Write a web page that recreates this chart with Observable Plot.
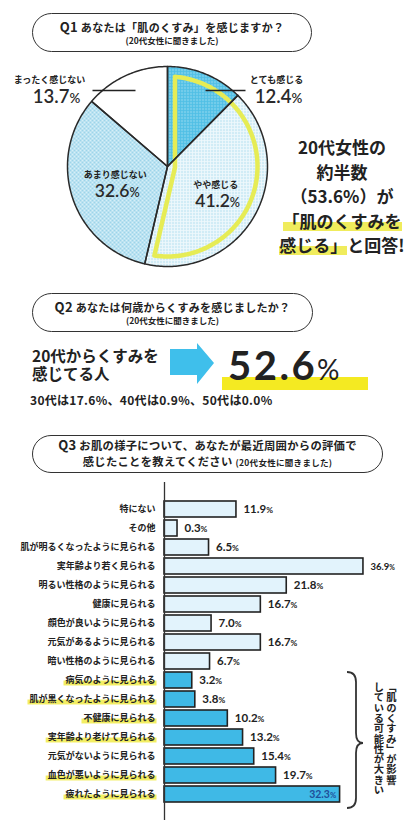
<!DOCTYPE html>
<html><head><meta charset="utf-8">
<script src="https://cdn.jsdelivr.net/npm/d3@7"></script>
<script src="https://cdn.jsdelivr.net/npm/@observablehq/plot@0.6"></script>
<style>
body{margin:0;background:#fff;}
#root{position:relative;width:420px;height:840px;overflow:hidden;font-family:"Noto Sans CJK JP",sans-serif;color:#222;background:#fff;}
.abs{position:absolute;}
.pill{position:absolute;border:1.6px solid #333;border-radius:22px;box-sizing:border-box;text-align:center;font-weight:700;white-space:nowrap;}
.pill .l1{font-size:11px;line-height:14px;letter-spacing:0.3px;}
.pill .l2{font-size:8.5px;line-height:12px;}
.pill .q{font-size:13px;}
.stmt{position:absolute;left:278px;top:135px;width:128px;text-align:center;font-size:17px;font-weight:700;line-height:24.5px;white-space:nowrap;}
.hl{background:linear-gradient(transparent 58%, #f0ec5c 58%, #f0ec5c 92%, transparent 92%);}
.vert{position:absolute;left:372px;top:682px;writing-mode:vertical-rl;font-size:10.3px;line-height:12.5px;font-weight:700;white-space:nowrap;}
.lead{position:absolute;left:32px;top:346px;width:135px;font-size:15.5px;line-height:18px;font-weight:700;}
</style></head>
<body>
<svg width="0" height="0" style="position:absolute">
 <defs>
  <pattern id="pStrong" width="3" height="3" patternUnits="userSpaceOnUse">
    <rect width="3" height="3" fill="#50bfe5"/><circle cx="1.5" cy="1.5" r="0.7" fill="#bfe8f6"/>
  </pattern>
  <pattern id="pSome" width="3" height="3" patternUnits="userSpaceOnUse">
    <rect width="3" height="3" fill="#eef8fc"/><circle cx="1.5" cy="1.5" r="0.7" fill="#8fd0ea"/>
  </pattern>
  <pattern id="pNot" width="4" height="4" patternUnits="userSpaceOnUse">
    <rect width="4" height="4" fill="#d6eff8"/><path d="M0,0L4,4M4,0L0,4" stroke="#8ecde6" stroke-width="0.8"/>
  </pattern>
 </defs>
</svg>
<div id="root">
  <svg id="deco" class="abs" width="420" height="840" style="left:0;top:0"></svg>
  <div class="pill" style="left:32px;top:13px;width:280px;height:39px;padding-top:6px">
    <div class="l1"><span class="q">Q1</span> あなたは「肌のくすみ」を感じますか？</div>
    <div class="l2">(20代女性に聞きました)</div>
  </div>
  <div class="stmt">20代女性の<br>約半数<br>（53.6%）が<br><span class="hl">「肌のくすみを</span><br><span class="hl">感じる」</span>と回答!</div>
  <div class="pill" style="left:32px;top:293px;width:281px;height:39px;padding-top:6px">
    <div class="l1"><span class="q">Q2</span> あなたは何歳からくすみを感じましたか？</div>
    <div class="l2">(20代女性に聞きました)</div>
  </div>
  <div class="lead">20代からくすみを感じてる人</div>
  <div class="pill" style="left:32px;top:435px;width:351px;height:38px;padding-top:1px">
    <div class="l1" style="line-height:16px;font-size:11.3px"><span class="q">Q3</span> お肌の様子について、あなたが最近周囲からの評価で</div>
    <div class="l1" style="line-height:16px;font-size:11.3px">感じたことを教えてください <span style="font-size:8.5px">(20代女性に聞きました)</span></div>
  </div>
  <div class="vert">「肌のくすみ」が影響<br>している可能性が大きい</div>
</div>
<script>
// ---------- data ----------
const q1Labels = ["とても感じる", "やや感じる", "あまり感じない", "まったく感じない"];
const q1Values = [12.4, 41.2, 32.6, 13.7];
const q1Highlight = ["とても感じる", "やや感じる"];

const q2Main = 52.6;
const q2AgeLabels = ["30代", "40代", "50代"];
const q2AgeValues = [17.6, 0.9, 0.0];

const q3Labels = [
  "特にない", "その他", "肌が明るくなったように見られる", "実年齢より若く見られる",
  "明るい性格のように見られる", "健康に見られる", "顔色が良いように見られる",
  "元気があるように見られる", "暗い性格のように見られる", "病気のように見られる",
  "肌が黒くなったように見られる", "不健康に見られる", "実年齢より老けて見られる",
  "元気がないように見られる", "血色が悪いように見られる", "疲れたように見られる"
];
const q3Values = [11.9, 0.3, 6.5, 36.9, 21.8, 16.7, 7.0, 16.7, 6.7, 3.2, 3.8, 10.2, 13.2, 15.4, 19.7, 32.3];
const q3Groups = ["other","other","other","other","other","other","other","other","other",
  "kusumi","kusumi","kusumi","kusumi","kusumi","kusumi","kusumi"];
const q3Highlighted = ["病気のように見られる", "肌が黒くなったように見られる", "不健康に見られる",
  "実年齢より老けて見られる", "血色が悪いように見られる", "疲れたように見られる"];

// ---------- styles / layout ----------
const q1Fill = {"とても感じる": "url(#pStrong)", "やや感じる": "url(#pSome)", "あまり感じない": "url(#pNot)", "まったく感じない": "#ffffff"};
const q1Outer = {"とても感じる": {x: 1.09, y: 0.86, px: 1.11, py: 0.69}, "まったく感じない": {x: -1.18, y: 0.86, px: -1.11, py: 0.69}};
const q1Leaders = [{x1: -0.75, x2: -0.32, y: 0.76}, {x1: 0.38, x2: 0.78, y: 0.76}];
const FONT = "'Noto Sans CJK JP', sans-serif";
const NUMFONT = "Lato, 'Noto Sans', sans-serif";
const ns = "http://www.w3.org/2000/svg";

function smallPercent(svg, scale) {
  svg.querySelectorAll("text").forEach(t => {
    if (t.querySelector("tspan")) return;
    const s = t.textContent;
    if (/^[\d.]+%$/.test(s)) {
      t.textContent = s.slice(0, -1);
      const ts = document.createElementNS(ns, "tspan");
      ts.setAttribute("font-size", scale + "em");
      ts.textContent = "%";
      t.appendChild(ts);
    }
  });
}

// ---------- Q1 pie ----------
const q1 = q1Labels.map((label, i) => ({label, value: q1Values[i]}));
const arcs = d3.pie().sort(null).value(d => d.value)(q1);
const deg = Math.PI / 180;
function arcPts(a0, a1, r) {
  const n = Math.max(2, Math.ceil((a1 - a0) / deg));
  return d3.range(n + 1).map(k => { const a = a0 + (a1 - a0) * k / n; return {x: r * Math.sin(a), y: r * Math.cos(a)}; });
}
const slices = arcs.map(a => ({label: a.data.label, pts: [{x: 0, y: 0}, ...arcPts(a.startAngle, a.endAngle, 1), {x: 0, y: 0}]}));

// inset outline of highlighted sectors
const hl = arcs.filter(a => q1Highlight.includes(a.data.label));
const A0 = d3.min(hl, a => a.startAngle), A1 = d3.max(hl, a => a.endAngle);
const dIn = 0.075, RIn = 0.9;
const u = a => [Math.sin(a), Math.cos(a)];
const u0 = u(A0), u1 = u(A1), n0 = u(A0 + Math.PI / 2), n1 = u(A1 - Math.PI / 2);
const bx = dIn * (n1[0] - n0[0]), by = dIn * (n1[1] - n0[1]);
const det = u0[0] * (-u1[1]) - (-u1[0]) * u0[1];
const tt = (bx * (-u1[1]) - (-u1[0]) * by) / det;
const V = {x: tt * u0[0] + dIn * n0[0], y: tt * u0[1] + dIn * n0[1]};
const eA = Math.asin(dIn / RIn);
const insetPts = [V, ...arcPts(A0 + eA, A1 - eA, RIn), V];

const q1Text = arcs.map(a => {
  const o = q1Outer[a.data.label];
  if (o) return {label: a.data.label, value: a.data.value, x: o.x, y: o.y, px: o.px, py: o.py, size: 18.5};
  const m = (a.startAngle + a.endAngle) / 2, r = 0.55;
  const cx = r * Math.sin(m), cy = r * Math.cos(m);
  return {label: a.data.label, value: a.data.value, x: cx, y: cy + 0.08, px: cx + 0.02, py: cy - 0.08, size: 17.5};
});

const piePlot = Plot.plot({
  width: 420, height: 230, margin: 0,
  x: {domain: [-1.67, 2.53], axis: null},
  y: {domain: [-1.2, 1.1], axis: null},
  style: {background: "transparent", fontFamily: FONT, overflow: "visible", color: "#222"},
  marks: [
    ...slices.map(s => Plot.line(s.pts, {x: "x", y: "y", fill: q1Fill[s.label], stroke: "none", curve: "linear"})),
    Plot.line(insetPts, {x: "x", y: "y", stroke: "#e6ec55", strokeWidth: 4.5, strokeLinejoin: "round", curve: "linear"}),
    ...slices.map(s => Plot.line(s.pts, {x: "x", y: "y", stroke: "#2a2a2a", strokeWidth: 1.5, strokeLinejoin: "round", curve: "linear"})),
    Plot.link(q1Leaders, {x1: "x1", x2: "x2", y1: "y", y2: "y", stroke: "#222", strokeWidth: 1.3}),
    Plot.text(q1Text, {x: "x", y: "y", text: "label", fontSize: 9, fontWeight: 700, fill: "#222"}),
    Plot.text(q1Text, {x: "px", y: "py", text: d => d.value.toFixed(1) + "%", fontSize: "size", fontWeight: 600, fontFamily: NUMFONT, fill: "#2a2a2a"})
  ]
});
piePlot.style.position = "absolute"; piePlot.style.left = "0px"; piePlot.style.top = "56px";
smallPercent(piePlot, 0.72);
document.getElementById("root").appendChild(piePlot);

// ---------- Q2 decorations ----------
const deco = document.getElementById("deco");
function el(tag, attrs, text, parent) {
  const e = document.createElementNS(ns, tag);
  for (const k in attrs) e.setAttribute(k, attrs[k]);
  if (text != null) e.textContent = text;
  (parent || deco).appendChild(e);
  return e;
}
el("rect", {x: 222, y: 377, width: 146, height: 13, fill: "#f4ea22"});
el("polygon", {points: "170,349 197,349 197,343 214,363 197,384 197,375 170,375", fill: "#3fbfeb"});
const big = el("text", {x: 228, y: 380, "font-size": 40, "font-weight": 700, "font-family": NUMFONT, "letter-spacing": 2.5, fill: "#222"}, q2Main.toFixed(1));
el("tspan", {"font-size": 28, "font-weight": 400}, "%", big);
el("text", {x: 30, y: 405, "font-size": 12, "font-weight": 700, "font-family": FONT, "letter-spacing": 0.3, fill: "#222"},
  q2AgeLabels.map((a, i) => `${a}は${q2AgeValues[i].toFixed(1)}%`).join("、"));
// bracket
el("path", {d: "M347,672 Q356,672 356,682 L356,733 Q356,743 363,743 Q356,743 356,753 L356,798 Q356,808 347,808", fill: "none", stroke: "#333", "stroke-width": 1.8});

// ---------- Q3 bars ----------
const q3 = q3Labels.map((label, i) => ({label, value: q3Values[i], group: q3Groups[i]}));
const inside = d => d.group === "kusumi" && d.value > 30;
const fmt = v => v.toFixed(1) + "%";
const barPlot = Plot.plot({
  width: 420, height: 355, marginTop: 20, marginBottom: 12, marginLeft: 175.5, marginRight: 41.3,
  x: {domain: [0, 40], axis: null},
  y: {domain: q3Labels, axis: null, padding: 0.17},
  style: {background: "transparent", fontFamily: FONT, overflow: "visible", color: "#222"},
  marks: [
    Plot.barX(q3.filter(d => d.group === "other"), {x: "value", y: "label", fill: "#e2f3fc", stroke: "#222", strokeWidth: 1.6, insetLeft: -11.5}),
    Plot.barX(q3.filter(d => d.group === "kusumi"), {x: "value", y: "label", fill: "#3fb9e6", stroke: "#222", strokeWidth: 1.6, insetLeft: -11.5}),
    Plot.ruleX([0], {dx: -11.5, insetTop: -8, insetBottom: -7, stroke: "#333", strokeWidth: 1.3}),
    Plot.text(q3.filter(d => !inside(d)), {x: "value", y: "label", text: d => fmt(d.value), dx: 7, textAnchor: "start",
      fontSize: d => d.value > 30 ? 9.5 : 11.5, fontWeight: 700, fontFamily: NUMFONT, fill: "#222"}),
    Plot.text(q3.filter(inside), {x: "value", y: "label", text: d => fmt(d.value), dx: -4, textAnchor: "end",
      fontSize: 10.5, fontWeight: 700, fontFamily: NUMFONT, fill: "#1f4f9a"}),
    Plot.axisY({tickSize: 0, tickPadding: 20.5, fontSize: 9, fontWeight: 700, label: null})
  ]
});
barPlot.style.position = "absolute"; barPlot.style.left = "0px"; barPlot.style.top = "470px";
smallPercent(barPlot, 0.72);
document.getElementById("root").appendChild(barPlot);

// yellow highlight under selected labels
barPlot.querySelectorAll('g[aria-label="y-axis tick label"] text').forEach(t => {
  if (!q3Highlighted.includes(t.textContent)) return;
  const b = t.getBBox();
  const r = document.createElementNS(ns, "rect");
  r.setAttribute("x", b.x - 2); r.setAttribute("y", b.y + b.height * 0.55);
  r.setAttribute("width", b.width + 3); r.setAttribute("height", b.height * 0.38);
  r.setAttribute("fill", "#f3ee63");
  const tr = t.getAttribute("transform"); if (tr) r.setAttribute("transform", tr);
  t.parentNode.insertBefore(r, t);
});
</script>
</body></html>
